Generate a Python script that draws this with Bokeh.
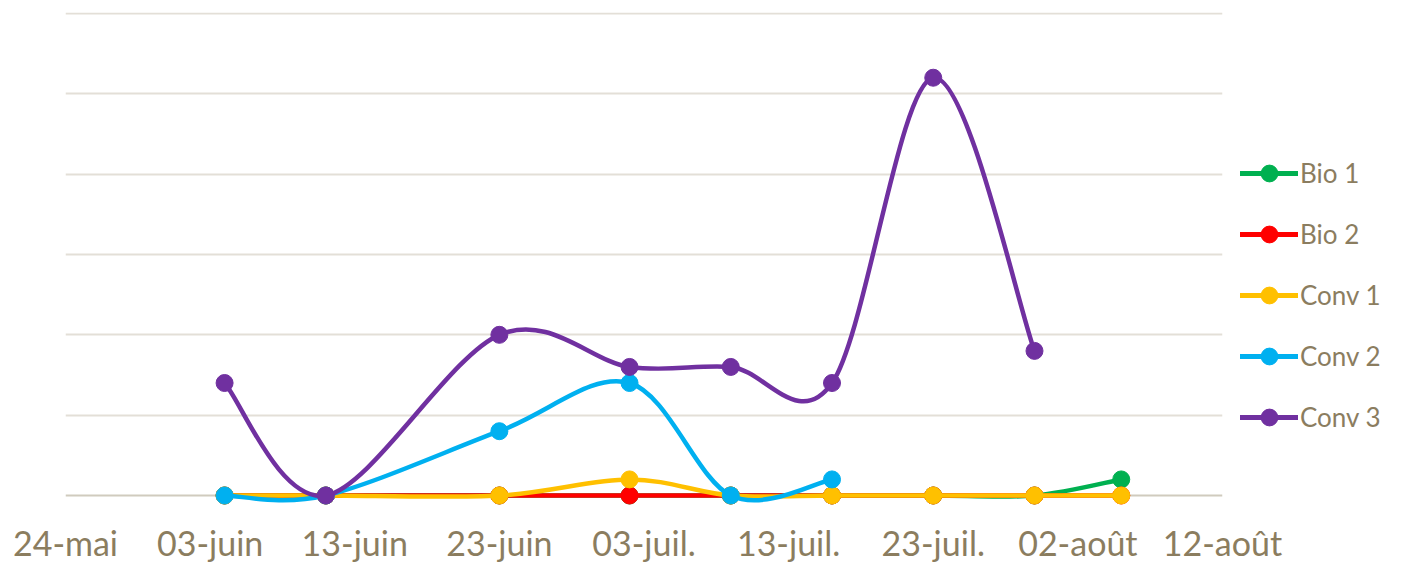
import numpy as np
import pandas as pd
from bokeh.plotting import figure
from bokeh.models import (FixedTicker, Legend, LegendItem, Range1d)
from bokeh.embed import file_html
from bokeh.resources import INLINE

# ---- data ----
dates = ["2021-06-04", "2021-06-11", "2021-06-23", "2021-07-02", "2021-07-09",
         "2021-07-16", "2021-07-23", "2021-07-30", "2021-08-05"]
bio1 = [0, 0, 0, 0, 0, 0, 0, 0, 1]
bio2 = [0, 0, 0, 0, 0, 0, 0, 0, 0]
conv1 = [0, 0, 0, 1, 0, 0, 0, 0, 0]
conv2 = [0, 0, 4, 7, 0, 1, None, None, None]
conv3 = [7, 0, 10, 8, 8, 7, 26, 9, None]
series_names = ["Bio 1", "Bio 2", "Conv 1", "Conv 2", "Conv 3"]
series_values = [bio1, bio2, conv1, conv2, conv3]
colors = ["#00B050", "#FF0000", "#FFC000", "#00B0F0", "#7030A0"]
tick_dates = ["2021-05-24", "2021-06-03", "2021-06-13", "2021-06-23", "2021-07-03",
              "2021-07-13", "2021-07-23", "2021-08-02", "2021-08-12"]
tick_labels = ["24-mai", "03-juin", "13-juin", "23-juin", "03-juil.",
               "13-juil.", "23-juil.", "02-août", "12-août"]

FONT = "Lato"
TXT = "#8B7D5F"

def ms(d):
    return pd.Timestamp(d).value / 1e6

DAY = 86400000.0
xs_all = [ms(d) for d in dates]
ticks = [ms(d) for d in tick_dates]

p = figure(frame_width=1157, height=565, output_backend="svg", toolbar_location=None,
           x_axis_type="datetime",
           x_range=Range1d(ticks[0], ticks[-1]), y_range=Range1d(-1.37, 30.06),
           min_border_left=65, min_border_right=0, min_border_top=12,
           min_border_bottom=0)
p.outline_line_color = None
p.background_fill_color = "white"

p.xaxis.ticker = FixedTicker(ticks=ticks)
p.xaxis.major_label_overrides = {t: l for t, l in zip(ticks, tick_labels)}
p.xaxis.axis_line_color = None
p.xaxis.major_tick_line_color = None
p.xaxis.major_tick_out = 0
p.xaxis.major_tick_in = 0
p.xaxis.minor_tick_line_color = None
p.xaxis.major_label_text_font = FONT
p.xaxis.major_label_text_font_size = "34px"
p.xaxis.major_label_text_color = TXT
p.xaxis.major_label_standoff = 4
p.xgrid.grid_line_color = None

p.yaxis.visible = False
p.ygrid.ticker = FixedTicker(ticks=[5, 10, 15, 20, 25, 30])
p.ygrid.grid_line_color = "#E3DFD7"
p.ygrid.grid_line_width = 2

# baseline at 0
p.line([ticks[0], ticks[-1]], [0, 0], line_color="#D0CBBE", line_width=2)

# pixel scale factors (approx) for smoothing in screen-proportional space
px_per_day = 14.46
px_per_unit = 16.07

def smooth_segments(xs, ys):
    # Catmull-Rom -> cubic Bezier, computed in screen-proportional coordinates
    X = np.array([(x - xs[0]) / DAY * px_per_day for x in xs])
    Y = np.array(ys, dtype=float) * px_per_unit
    n = len(X)
    out = dict(x0=[], y0=[], x1=[], y1=[], cx0=[], cy0=[], cx1=[], cy1=[])
    bx = lambda v: xs[0] + v / px_per_day * DAY
    by = lambda v: v / px_per_unit
    for i in range(n - 1):
        i0 = max(i - 1, 0)
        i3 = min(i + 2, n - 1)
        c1x = X[i] + (X[i + 1] - X[i0]) / 6
        c1y = Y[i] + (Y[i + 1] - Y[i0]) / 6
        c2x = X[i + 1] - (X[i3] - X[i]) / 6
        c2y = Y[i + 1] - (Y[i3] - Y[i]) / 6
        out["x0"].append(bx(X[i])); out["y0"].append(by(Y[i]))
        out["x1"].append(bx(X[i + 1])); out["y1"].append(by(Y[i + 1]))
        out["cx0"].append(bx(c1x)); out["cy0"].append(by(c1y))
        out["cx1"].append(bx(c2x)); out["cy1"].append(by(c2y))
    return out

# invisible spacer entries to push the legend down in its side panel
items = []
for _ in range(2):
    ghost = p.scatter([], [], alpha=0)
    items.append(LegendItem(label=" ", renderers=[ghost]))

for name, vals, col in zip(series_names, series_values, colors):
    xs = [x for x, v in zip(xs_all, vals) if v is not None]
    ys = [v for v in vals if v is not None]
    seg = smooth_segments(xs, ys)
    p.bezier(source=seg, x0="x0", y0="y0", x1="x1", y1="y1",
             cx0="cx0", cy0="cy0", cx1="cx1", cy1="cy1",
             line_color=col, line_width=4.5, line_cap="round")
    lr = p.line([xs[0]], [ys[0]], line_color=col, line_width=5, line_cap="round")
    sr = p.scatter(xs, ys, size=17, fill_color=col, line_color=col)
    items.append(LegendItem(label=name, renderers=[lr, sr]))

legend = Legend(items=items, location="top_left", orientation="vertical",
                label_text_font=FONT, label_text_font_size="26px",
                label_text_color=TXT, glyph_width=58, glyph_height=42,
                label_height=42, spacing=19, label_standoff=2,
                padding=0, margin=18, border_line_color=None,
                background_fill_alpha=0)
p.add_layout(legend, "right")

open("out.html", "w").write(file_html(p, INLINE))
